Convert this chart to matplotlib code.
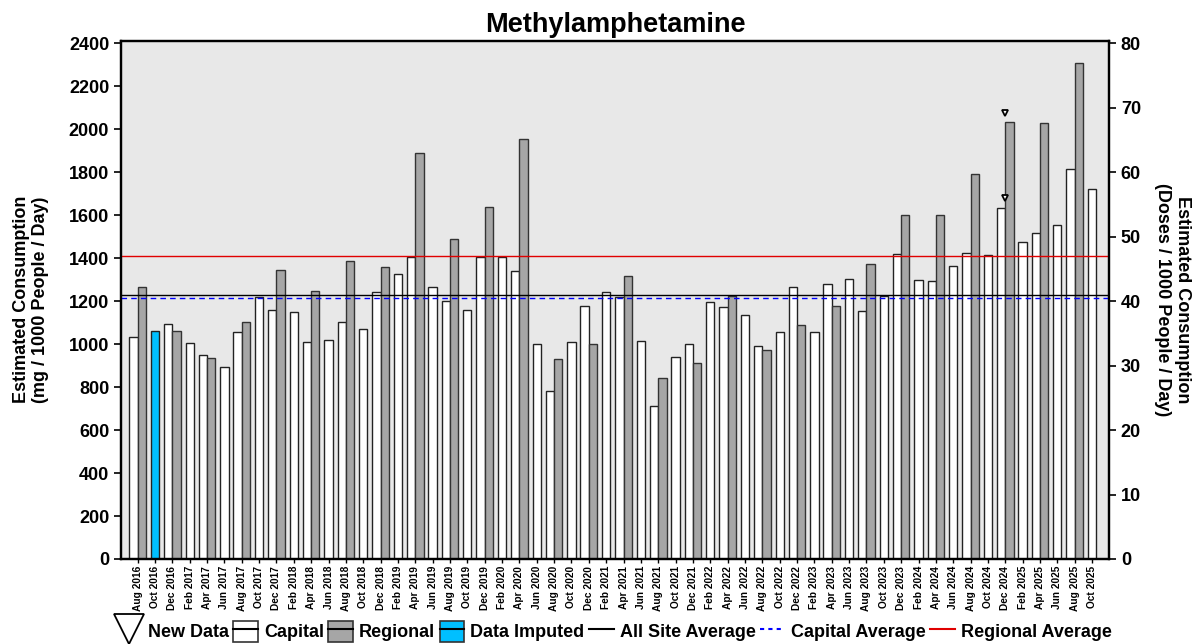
import matplotlib
matplotlib.use("Agg")
import matplotlib.pyplot as plt
from matplotlib.patches import Patch
from matplotlib.lines import Line2D
from matplotlib.legend_handler import HandlerTuple

plt.rcParams['font.family'] = ['Liberation Sans', 'DejaVu Sans']
plt.rcParams['font.weight'] = 'bold'

periods = ["Aug 2016", "Oct 2016", "Dec 2016", "Feb 2017", "Apr 2017", "Jun 2017", "Aug 2017", "Oct 2017",
           "Dec 2017", "Feb 2018", "Apr 2018", "Jun 2018", "Aug 2018", "Oct 2018", "Dec 2018", "Feb 2019",
           "Apr 2019", "Jun 2019", "Aug 2019", "Oct 2019", "Dec 2019", "Feb 2020", "Apr 2020", "Jun 2020",
           "Aug 2020", "Oct 2020", "Dec 2020", "Feb 2021", "Apr 2021", "Jun 2021", "Aug 2021", "Oct 2021",
           "Dec 2021", "Feb 2022", "Apr 2022", "Jun 2022", "Aug 2022", "Oct 2022", "Dec 2022", "Feb 2023",
           "Apr 2023", "Jun 2023", "Aug 2023", "Oct 2023", "Dec 2023", "Feb 2024", "Apr 2024", "Jun 2024",
           "Aug 2024", "Oct 2024", "Dec 2024", "Feb 2025", "Apr 2025", "Jun 2025", "Aug 2025", "Oct 2025"]

capital = [1034, 1063, 1092, 1004, 949, 894, 1057, 1221,
           1157, 1147, 1010, 1018, 1102, 1069, 1242, 1324,
           1406, 1266, 1200, 1158, 1407, 1407, 1338, 1000,
           780, 1010, 1179, 1242, 1218, 1013, 713, 939,
           1000, 1198, 1174, 1134, 989, 1055, 1267, 1055,
           1279, 1301, 1153, 1222, 1417, 1300, 1292, 1364,
           1424, 1416, 1634, 1475, 1517, 1552, 1813, 1721]

regional = [1267, None, 1062, None, 936, None, 1102, None,
            1346, None, 1247, None, 1387, None, 1359, None,
            1888, None, 1489, None, 1637, None, 1953, None,
            931, None, 999, None, 1317, None, 844, None,
            910, None, 1222, None, 973, None, 1089, None,
            1177, None, 1374, None, 1599, None, 1599, None,
            1793, None, 2032, None, 2030, None, 2307, None]

imputed_capital = ["Oct 2016"]
new_data_periods = ["Dec 2024"]

all_site_avg = 1226
capital_avg = 1214
regional_avg = 1412
mg_per_dose = 30

fig = plt.figure(figsize=(12, 6.44), dpi=100)
ax = fig.add_axes([0.1008, 0.132, 0.8234, 0.805])
ax.set_facecolor('#E8E8E8')

w = 0.48
for i, p in enumerate(periods):
    c = capital[i]
    r = regional[i]
    both = c is not None and r is not None
    if c is not None:
        xc = i - w / 2 if both else i
        fc = '#00BFFF' if p in imputed_capital else 'white'
        ax.bar(xc, c, width=w, color=fc, edgecolor='#222222', linewidth=1.0, zorder=2)
    if r is not None:
        xr = i + w / 2 if both else i
        ax.bar(xr, r, width=w, color='#A6A6A6', edgecolor='#333333', linewidth=1.0, zorder=2)
    if p in new_data_periods:
        for v in (c, r):
            if v is not None:
                ax.plot(i, v + 45, marker='v', ms=5, mfc='white', mec='black', mew=1.3,
                        linestyle='none', zorder=4)

ax.axhline(all_site_avg, color='black', lw=1.0, zorder=3)
ax.axhline(capital_avg, color='#0000FF', lw=1.0, ls=(0, (4, 3)), zorder=3)
ax.axhline(regional_avg, color='#E00000', lw=1.0, zorder=3)

ymax = 2412
ax.set_ylim(0, ymax)
ax.set_xlim(-0.96, len(periods) - 1 + 0.98)
ax.set_yticks(range(0, 2401, 200))
ax.set_xticks(range(len(periods)))
ax.set_xticklabels(periods, rotation=90, fontsize=7.3, fontweight='bold')
ax.tick_params(axis='y', labelsize=13, length=5, width=1.2, direction='out')
ax.tick_params(axis='x', length=3, width=1.0, direction='out', pad=2)
for lab in ax.get_yticklabels():
    lab.set_fontweight('bold')
for s in ax.spines.values():
    s.set_linewidth(1.6)

ax.set_ylabel("Estimated Consumption\n(mg / 1000 People / Day)", fontsize=13, fontweight='bold', labelpad=14)
ax.set_title("Methylamphetamine", fontsize=19.5, fontweight='bold', pad=6)

ax2 = ax.twinx()
ax2.set_ylim(0, ymax / mg_per_dose)
ax2.set_yticks(range(0, 81, 10))
ax2.tick_params(axis='y', labelsize=13, length=5, width=1.2, direction='out')
for lab in ax2.get_yticklabels():
    lab.set_fontweight('bold')
for s in ax2.spines.values():
    s.set_linewidth(1.6)
ax2.set_ylabel("Estimated Consumption\n(Doses / 1000 People / Day)", fontsize=13, fontweight='bold',
               rotation=270, labelpad=36)

handles = [
    Line2D([], [], marker='v', ms=21, mfc='none', mec='black', mew=1.3, linestyle='none'),
    (Patch(facecolor='white', edgecolor='#333333', lw=1.2), Line2D([], [], color='black', lw=1.5)),
    (Patch(facecolor='#A6A6A6', edgecolor='#333333', lw=1.2), Line2D([], [], color='black', lw=1.5)),
    (Patch(facecolor='#00BFFF', edgecolor='#333333', lw=1.2), Line2D([], [], color='black', lw=1.5)),
    Line2D([], [], color='black', lw=1.5),
    Line2D([], [], color='#0000FF', lw=1.5, ls=(0, (2, 2))),
    Line2D([], [], color='#E00000', lw=1.5),
]
labels = ["New Data", "Capital", "Regional", "Data Imputed", "All Site Average", "Capital Average",
          "Regional Average"]
leg = fig.legend(handles, labels, loc='lower center', bbox_to_anchor=(0.512, -0.022), ncol=7,
                 frameon=False, handlelength=1.35, handleheight=1.4, handletextpad=0.35,
                 columnspacing=0.25, handler_map={tuple: HandlerTuple(ndivide=1, pad=0)},
                 prop={'weight': 'bold', 'size': 13})

fig.savefig("out.png", dpi=100)
